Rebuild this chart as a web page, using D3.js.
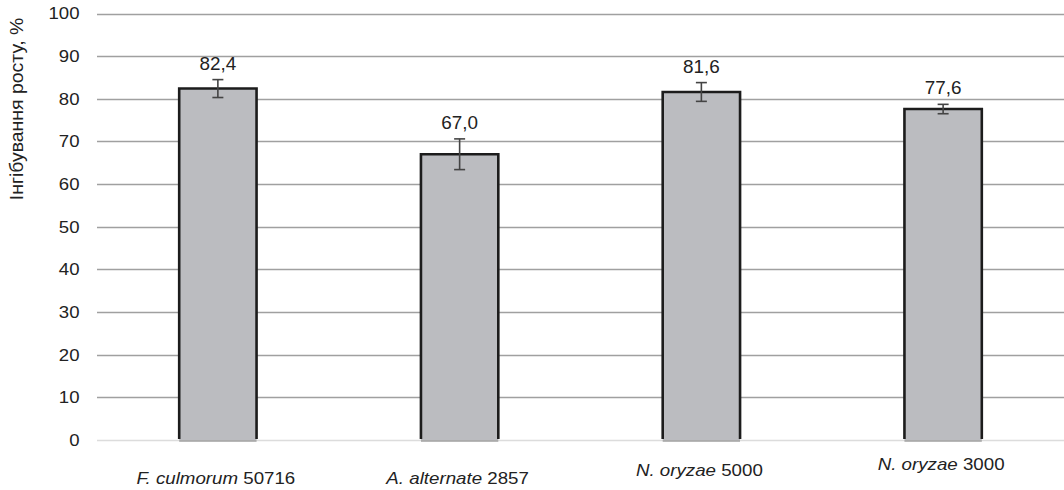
<!DOCTYPE html>
<html>
<head>
<meta charset="utf-8">
<script src="https://cdn.jsdelivr.net/npm/d3@7"></script>
<style>
  body { margin: 0; background: #fff; }
  text { font-family: "Liberation Sans", Arial, sans-serif; fill: #222; }
</style>
</head>
<body>
<div id="chart"></div>
<script>
// data
var species = ["F. culmorum", "A. alternate", "N. oryzae", "N. oryzae"];
var strains = ["50716", "2857", "5000", "3000"];
var values = [82.4, 67.0, 81.6, 77.6];
var errors = [2.1, 3.6, 2.2, 1.1];
var yTicks = [0, 10, 20, 30, 40, 50, 60, 70, 80, 90, 100];

// layout: the category labels sit at uneven heights in the original
var labelBaseline = [484, 484, 476, 470];

var width = 1064, height = 490;
var plotLeft = 97, plotRight = 1064, plotTop = 13.5, plotBottom = 440;

var svg = d3.select("#chart").append("svg")
  .attr("width", width)
  .attr("height", height);

var cats = d3.range(values.length);

var x = d3.scaleBand()
  .domain(cats)
  .range([plotLeft, plotRight])
  .paddingInner(0.68)
  .paddingOuter(0.34);

var y = d3.scaleLinear().domain([0, 100]).range([plotBottom, plotTop]);

// the original text is a bit wider than Arial, so stretch it horizontally
function place(px, py, sx) {
  return "translate(" + px + "," + py + ") scale(" + sx + ",1)";
}

// gridlines
svg.selectAll("line.grid")
  .data(yTicks)
  .enter()
  .append("line")
  .attr("class", "grid")
  .attr("x1", plotLeft)
  .attr("x2", plotRight)
  .attr("y1", function (d) { return Math.round(y(d)) + 0.5; })
  .attr("y2", function (d) { return Math.round(y(d)) + 0.5; })
  .style("stroke", function (d) { return d === 0 ? "#dcdcdc" : "#a0a0a0"; })
  .style("stroke-width", 1.4);

// y tick labels
svg.selectAll("text.ytick")
  .data(yTicks)
  .enter()
  .append("text")
  .attr("class", "ytick")
  .attr("transform", function (d) { return place(79.5, y(d), 1.14); })
  .attr("dy", "0.36em")
  .attr("text-anchor", "end")
  .style("font-size", "16.3px")
  .text(function (d) { return d; });

// y axis title
svg.append("text")
  .attr("transform", "translate(22.5,109) rotate(-90) scale(1.08,1)")
  .attr("text-anchor", "middle")
  .style("font-size", "18px")
  .text("Інгібування росту, %");

// bars
var bars = svg.selectAll("g.bar")
  .data(cats)
  .enter()
  .append("g")
  .attr("class", "bar");

bars.append("rect")
  .attr("x", function (i) { return x(i); })
  .attr("y", function (i) { return y(values[i]); })
  .attr("width", x.bandwidth())
  .attr("height", function (i) { return y(0) - y(values[i]); })
  .style("fill", "#bbbcc0");

bars.append("path")
  .attr("d", function (i) {
    var x0 = x(i), x1 = x(i) + x.bandwidth(), yt = y(values[i]), yb = y(0) - 1;
    return "M" + x0 + "," + yb + "V" + yt + "H" + x1 + "V" + yb;
  })
  .style("fill", "none")
  .style("stroke", "#1c1c1c")
  .style("stroke-width", 2.6);

bars.append("line")
  .attr("x1", function (i) { return x(i); })
  .attr("x2", function (i) { return x(i) + x.bandwidth(); })
  .attr("y1", y(0) + 1)
  .attr("y2", y(0) + 1)
  .style("stroke", "#7a7a7a")
  .style("stroke-width", 1.2);

// error bars
var cx = function (i) { return x(i) + x.bandwidth() / 2; };
var err = svg.selectAll("g.err")
  .data(cats)
  .enter()
  .append("g")
  .attr("class", "err")
  .style("stroke", "#444")
  .style("stroke-width", 1.6);

err.append("line")
  .attr("x1", cx).attr("x2", cx)
  .attr("y1", function (i) { return y(values[i] + errors[i]); })
  .attr("y2", function (i) { return y(values[i] - errors[i]); });

[1, -1].forEach(function (s) {
  err.append("line")
    .attr("x1", function (i) { return cx(i) - 5.5; })
    .attr("x2", function (i) { return cx(i) + 5.5; })
    .attr("y1", function (i) { return y(values[i] + s * errors[i]); })
    .attr("y2", function (i) { return y(values[i] + s * errors[i]); });
});

// value labels
svg.selectAll("text.val")
  .data(cats)
  .enter()
  .append("text")
  .attr("class", "val")
  .attr("transform", function (i) { return place(cx(i), y(values[i] + errors[i]) - 10, 1.05); })
  .attr("text-anchor", "middle")
  .style("font-size", "18px")
  .text(function (i) { return values[i].toFixed(1).replace(".", ","); });

// category labels
var cl = svg.selectAll("text.cat")
  .data(cats)
  .enter()
  .append("text")
  .attr("class", "cat")
  .attr("transform", function (i) { return place(cx(i) - 2, labelBaseline[i], 1.17); })
  .attr("text-anchor", "middle")
  .style("font-size", "16px");

cl.append("tspan")
  .style("font-style", "italic")
  .text(function (i) { return species[i]; });
cl.append("tspan")
  .text(function (i) { return " " + strains[i]; });
</script>
</body>
</html>
